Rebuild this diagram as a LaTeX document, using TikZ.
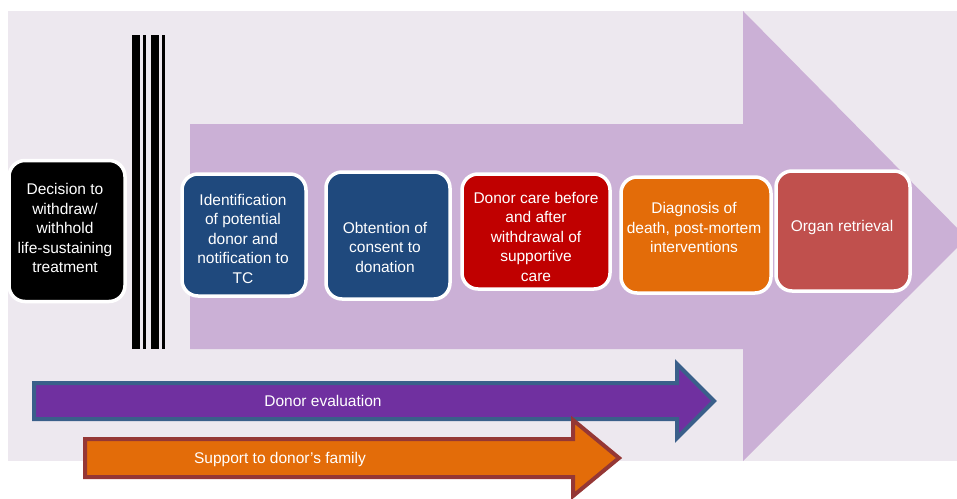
\documentclass[tikz,border=0pt]{standalone}
\usepackage{fontspec}
\setmainfont{Liberation Sans}
\definecolor{bgc}{HTML}{EDE8EF}
\definecolor{bigarrow}{HTML}{CBB0D6}
\definecolor{navy}{HTML}{1F497D}
\definecolor{darkred}{HTML}{C00000}
\definecolor{orng}{HTML}{E36C09}
\definecolor{rose}{HTML}{C0504D}
\definecolor{purp}{HTML}{7030A0}
\definecolor{steel}{HTML}{3A5F8A}
\definecolor{brick}{HTML}{953735}
\begin{document}
\begin{tikzpicture}[x=1pt,y=-1pt,
  box/.style={draw=white, line width=3.5pt, rounded corners=16pt, inner sep=0pt},
  txt/.style={text=white, align=center, font=\fontsize{15.5pt}{19.5pt}\selectfont, inner sep=0pt},
  bar/.style={fill=black, draw=none}]
\useasboundingbox (0,0) rectangle (957,498);
\clip (0,0) rectangle (957,498);
% background
\fill[bgc] (8,11) rectangle (957,461);
% big arrow
\fill[bigarrow] (190,124) -- (743,124) -- (743,11) -- (967,238) -- (743,461) -- (743,349) -- (190,349) -- cycle;
% vertical bars
\fill[bar] (131.7,35) rectangle (140,349);
\fill[bar] (142.7,35) rectangle (145.7,349);
\fill[bar] (150.7,35) rectangle (159,349);
\fill[bar] (162,35) rectangle (164.7,349);
% boxes
\node[box, fill=black, minimum width=116pt, minimum height=141pt] (b0) at (67,231) {};
\node[box, fill=navy, minimum width=124pt, minimum height=122pt] (b1) at (244,235) {};
\node[box, fill=navy, minimum width=124pt, minimum height=127pt] (b2) at (388,235.5) {};
\node[box, fill=darkred, minimum width=148pt, minimum height=115pt] (b3) at (536,231.5) {};
\node[box, fill=orng, minimum width=150pt, minimum height=116pt] (b4) at (696,235) {};
\node[box, fill=rose, minimum width=134pt, minimum height=120pt] (b5) at (843,231) {};
% texts
\node[txt] (t0) at (65,228) {Decision to\\withdraw/\\withhold\\life-sustaining\\treatment};
\node[txt] (t1) at (243,238.5) {Identification\\of potential\\donor and\\notification to\\TC};
\node[txt] (t2) at (385,247) {Obtention of\\consent to\\donation};
\node[txt] (t3) at (536,236.5) {Donor care before\\and after\\withdrawal of\\supportive\\care};
\node[txt] (t4) at (694,227.5) {Diagnosis of\\death, post-mortem\\interventions};
\node[txt] (t5) at (842,227) {Organ retrieval};
% lower arrows
\filldraw[fill=purp, draw=steel, line width=4pt, line join=miter]
  (34,383) -- (677,383) -- (677,364) -- (714,401) -- (677,438) -- (677,419) -- (34,419) -- cycle;
\node[txt] (de) at (323,401) {Donor evaluation};
\filldraw[fill=orng, draw=brick, line width=4pt, line join=miter]
  (85,439) -- (573,439) -- (573,420) -- (619,458) -- (573,496) -- (573,477) -- (85,477) -- cycle;
\node[txt] (sf) at (280,459) {Support to donor’s family};
\end{tikzpicture}
\end{document}
